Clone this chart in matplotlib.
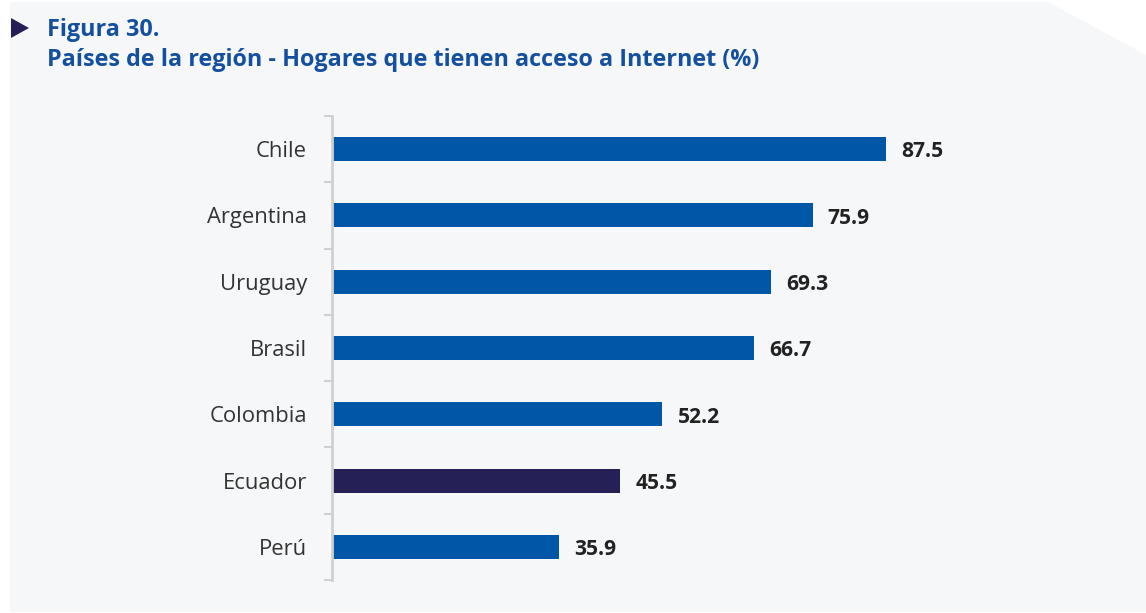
import matplotlib.pyplot as plt
from matplotlib.patches import Polygon

plt.rcParams['font.family'] = ['Open Sans', 'DejaVu Sans']

paises = ["Chile", "Argentina", "Uruguay", "Brasil", "Colombia", "Ecuador", "Perú"]
valores = [87.5, 75.9, 69.3, 66.7, 52.2, 45.5, 35.9]
colores = ["#0057a8"] * 5 + ["#252157", "#0057a8"]

W, H = 1146, 613
fig = plt.figure(figsize=(W / 100, H / 100), dpi=100)
fig.patch.set_facecolor("white")

# fondo gris con la esquina cortada
fondo = Polygon([(10 / W, 1 - 612 / H), (10 / W, 1 - 2 / H), (1048 / W, 1 - 2 / H),
                 (1146 / W, 1 - 55 / H), (1146 / W, 1 - 612 / H)],
                closed=True, transform=fig.transFigure, facecolor="#f6f7f9",
                edgecolor="none", zorder=-5)
fig.patches.append(fondo)

# titulo
fig.patches.append(Polygon([(11 / W, 1 - 18 / H), (11 / W, 1 - 38 / H), (29 / W, 1 - 28 / H)],
                           closed=True, transform=fig.transFigure, facecolor="#231f55",
                           edgecolor="none"))
fig.text(47 / W, 1 - 30 / H, "Figura 30.", fontsize=16.8, fontweight="bold",
         color="#1550a0", va="center", ha="left")
fig.text(47 / W, 1 - 60 / H, "Países de la región - Hogares que tienen acceso a Internet (%)",
         fontsize=16.8, fontweight="bold", color="#1550a0", va="center", ha="left")

# ejes
x0, x1 = 332, 332 + 6.331 * 100
ytop, ybot = 116, 580
ax = fig.add_axes([x0 / W, 1 - ybot / H, (x1 - x0) / W, (ybot - ytop) / H])
ax.set_facecolor("none")
pos = list(range(len(paises)))
ax.barh(pos, valores, height=0.36, color=colores, zorder=2)
ax.set_xlim(0, 100)
ax.set_ylim(len(paises) - 0.5, -0.5)

for p, v in zip(pos, valores):
    ax.annotate(f"{v:.1f}", (v, p), xytext=(11, -2), textcoords="offset points",
                ha="left", va="center", fontsize=15.1, fontweight="bold", color="#222222")

ax.set_yticks(pos)
ax.set_yticklabels(paises, fontsize=15.8, color="#333333")
ax.set_yticks([p - 0.5 for p in range(len(paises) + 1)], minor=True)
ax.tick_params(axis="y", which="major", length=0, pad=18)
ax.tick_params(axis="y", which="minor", length=6, width=1.5, color="#d0d0d0")
ax.set_xticks([])
for s in ["top", "right", "bottom"]:
    ax.spines[s].set_visible(False)
ax.spines["left"].set_color("#d0d0d0")
ax.spines["left"].set_linewidth(2)

fig.savefig("out.png", dpi=100)
